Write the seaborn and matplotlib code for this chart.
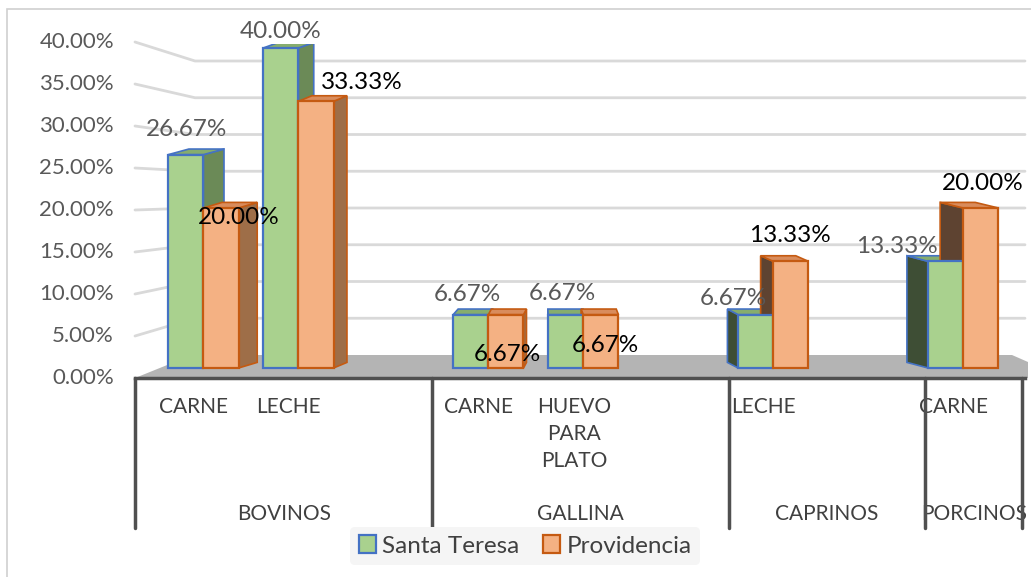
import numpy as np
import pandas as pd
import matplotlib
matplotlib.use("Agg")
import matplotlib.pyplot as plt
import seaborn as sns
from matplotlib.patches import Polygon, Patch, Rectangle
import matplotlib.transforms as mtransforms

# data
groups = ["BOVINOS", "BOVINOS", "GALLINA", "GALLINA", "CAPRINOS", "PORCINOS"]
products = ["CARNE", "LECHE", "CARNE", "HUEVO\nPARA\nPLATO", "LECHE", "CARNE"]
santa_teresa = [0.2667, 0.40, 0.0667, 0.0667, 0.0667, 0.1333]
providencia = [0.20, 0.3333, 0.0667, 0.0667, 0.1333, 0.20]
series = ["Santa Teresa", "Providencia"]
group_names = ["BOVINOS", "GALLINA", "CAPRINOS", "PORCINOS"]
ticks = [0.0, 0.05, 0.10, 0.15, 0.20, 0.25, 0.30, 0.35, 0.40]

items = [g + "|" + p for g, p in zip(groups, products)]
df = pd.DataFrame({
    "item": items * 2,
    "zona": [series[0]] * len(items) + [series[1]] * len(items),
    "valor": santa_teresa + providencia,
})

# empty slots between the groups, like the excel layout
order = [items[0], items[1], " ", items[2], items[3], "  ", items[4], "   ", items[5]]

face = {"Santa Teresa": "#a9d18e", "Providencia": "#f4b183"}
edge = {"Santa Teresa": "#4472c4", "Providencia": "#c55a11"}
side_r = {"Santa Teresa": "#6b8a57", "Providencia": "#9e6e48"}
side_l = {"Santa Teresa": "#3e4e35", "Providencia": "#5e4331"}
top_c = {"Santa Teresa": "#86ad6e", "Providencia": "#d98c5c"}
label_c = {"Santa Teresa": "#595959", "Providencia": "#000000"}

sns.set_theme(style="white")
plt.rcParams["font.family"] = ["Lato", "DejaVu Sans"]

W, H = 1031, 577
fig = plt.figure(figsize=(W / 100, H / 100), dpi=100)
ax = fig.add_axes([135 / W, (H - 378) / H, 890 / W, 334 / H])


def fy(px):
    # pixel row -> figure fraction
    return 1 - px / H


sns.barplot(data=df, x="item", y="valor", hue="zona", order=order,
            hue_order=series, palette=face, saturation=1, width=0.74,
            errorbar=None, ax=ax, zorder=3, legend=False)

ax.set_xlim(-0.72, 8.65)
ax.set_ylim(-0.0125, 0.405)
ax.set_xticks([])
ax.set_yticks([])
ax.set_xlabel("")
ax.set_ylabel("")
for s in ["left", "right", "top"]:
    ax.spines[s].set_visible(False)
ax.spines["bottom"].set_color("#505050")
ax.spines["bottom"].set_linewidth(2.5)

# tick labels on the front edge, gridlines bent onto the back wall
for t in ticks:
    y_front = 378 - 840 * t
    y_back = 355 - 735 * t
    fig.text(114 / W, fy(y_front), f"{t * 100:.2f}%", ha="right", va="center",
             fontsize=16, color="#595959")
    if t > 0:
        ax.plot([135 / W, 195 / W, 1025 / W], [fy(y_front), fy(y_back), fy(y_back)],
                transform=fig.transFigure, color="#d9d9d9", lw=2, zorder=0, clip_on=False)

# gray floor
ax.add_patch(Polygon([(135 / W, fy(378)), (1028 / W, fy(378)), (1028 / W, fy(362)),
                      (1012 / W, fy(355)), (192 / W, fy(355))],
                     closed=True, transform=fig.transFigure, facecolor="#b4b4b4",
                     edgecolor="none", zorder=1, clip_on=False))

# fake 3d faces from the bar geometry
vx = 3.76
k = 0.055
dy = 0.007
offsets = {
    "Santa Teresa": [(1, 25), (0, 16), (-3, 20), (-3, 21), (-22, 16), (-49, 15)],
    "Providencia": [(18, -10), (46, 19), (1, -40), (4, -31), (-1, 26), (2, 25)],
}
for name, cont in zip(series, ax.containers):
    bars = sorted([b for b in cont if b.get_height() > 0], key=lambda b: b.get_x())
    for i, b in enumerate(bars):
        b.set_edgecolor(edge[name])
        b.set_linewidth(1.6)
        x0 = b.get_x()
        x1 = x0 + b.get_width()
        h = b.get_height()
        xc = x0 + b.get_width() / 2
        dx = k * (vx - xc)
        if dx > 0:
            side = [(x1, 0), (x1 + dx, dy), (x1 + dx, h + dy), (x1, h)]
            sc = side_r[name]
        else:
            side = [(x0, 0), (x0 + dx, dy), (x0 + dx, h + dy), (x0, h)]
            sc = side_l[name]
        ax.add_patch(Polygon(side, closed=True, facecolor=sc, edgecolor=edge[name],
                             lw=1.2, zorder=2))
        top = [(x0, h), (x1, h), (x1 + dx, h + dy), (x0 + dx, h + dy)]
        ax.add_patch(Polygon(top, closed=True, facecolor=top_c[name], edgecolor=edge[name],
                             lw=1.2, zorder=2))
        ax.annotate(f"{h * 100:.2f}%", (xc, h), xytext=offsets[name][i],
                    textcoords="offset pixels", ha="center", va="center",
                    fontsize=17.5, color=label_c[name], zorder=6, annotation_clip=False)

# multi level category axis
pos = [order.index(it) for it in items]
lab_t = mtransforms.blended_transform_factory(ax.transData, fig.transFigure)
for p, prod in zip(pos, products):
    ax.text(p - 0.1, fy(397), prod, transform=lab_t, ha="center", va="top",
            fontsize=15, color="#404040", linespacing=1.45)

seps = [-0.72, 2.41, 5.53, 7.6, 8.62]
for s in seps:
    ax.plot([s, s], [fy(378), fy(528)], transform=lab_t, color="#505050",
            lw=2.5, clip_on=False, zorder=5)
for j, gname in enumerate(group_names):
    ax.text((seps[j] + seps[j + 1]) / 2, fy(514), gname, transform=lab_t,
            ha="center", va="center", fontsize=15, color="#404040")

handles = [Patch(facecolor=face[n], edgecolor=edge[n], lw=1.6, label=n) for n in series]
leg = fig.legend(handles=handles, loc="center", bbox_to_anchor=(525 / W, fy(546)),
                 ncol=2, frameon=True, fontsize=17.5, handlelength=0.7, handleheight=0.7,
                 handletextpad=0.25, columnspacing=1.0, borderpad=0.35)
leg.get_frame().set_facecolor("#f5f5f5")
leg.get_frame().set_edgecolor("none")
leg.get_frame().set_alpha(1)
leg.set_zorder(10)
for t in leg.get_texts():
    t.set_color("#404040")

fig.add_artist(Rectangle((7 / W, -0.01), 1.0, fy(9) + 0.01, transform=fig.transFigure,
                         fill=False, edgecolor="#d0d0d0", lw=1.2))

fig.savefig("out.png", dpi=100)
